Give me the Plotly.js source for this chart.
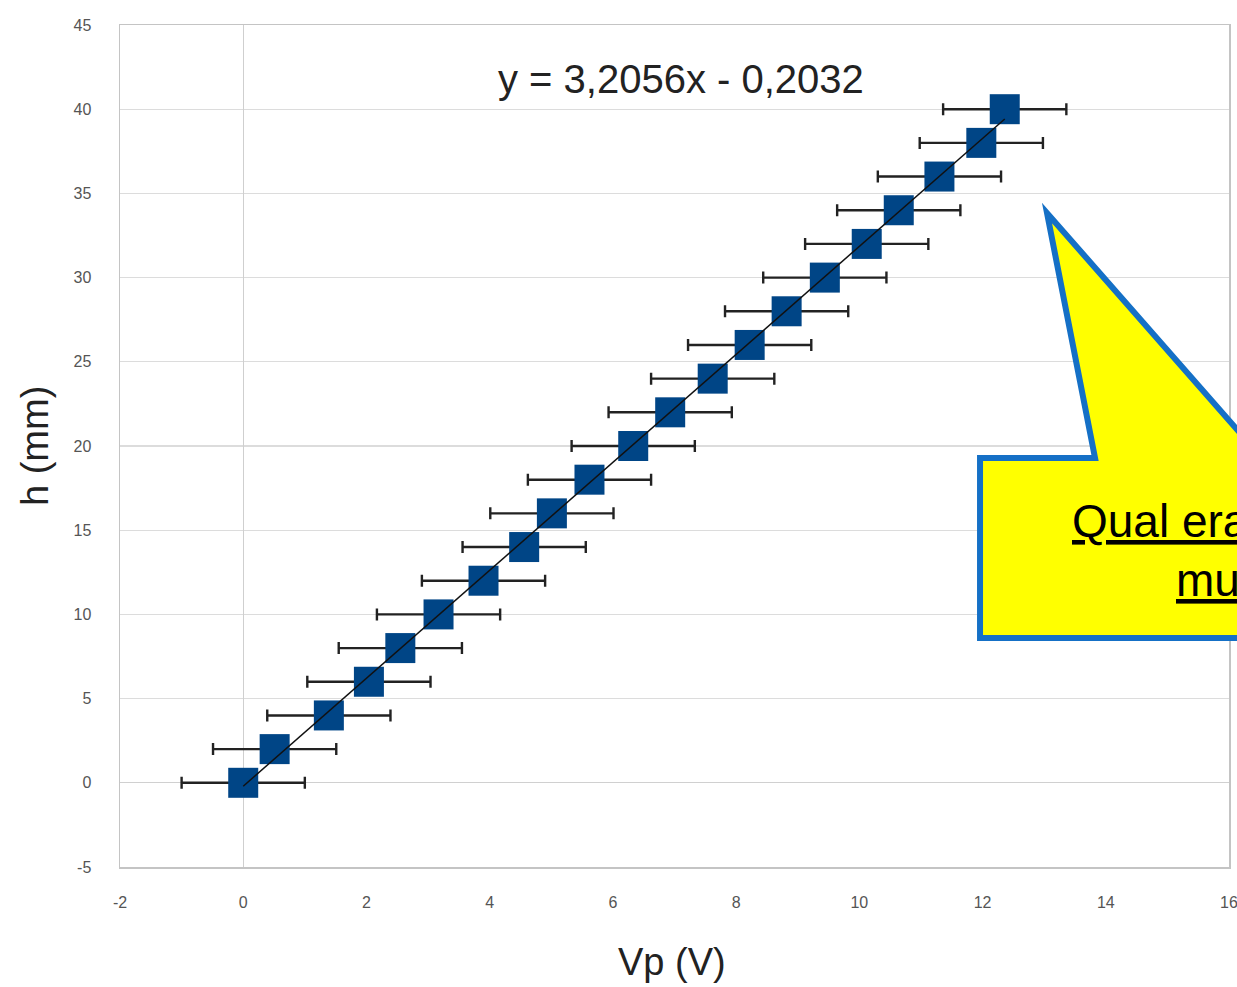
<!DOCTYPE html>
<html>
<head>
<meta charset="utf-8">
<script src="https://cdn.plot.ly/plotly-3.0.1.min.js"></script>
<style>
  html, body { margin: 0; padding: 0; background: #ffffff; overflow: hidden; }
  #chart { width: 1237px; height: 987px; }
</style>
</head>
<body>
<div id="chart"></div>
<script>
// Measured probe voltage (V) for each height step h (mm)
const vp = [0.00, 0.51, 1.39, 2.04, 2.55, 3.17, 3.90, 4.56, 5.01, 5.62, 6.33,
            6.93, 7.62, 8.22, 8.82, 9.44, 10.12, 10.64, 11.30, 11.98, 12.36];
const h = [0, 2, 4, 6, 8, 10, 12, 14, 16, 18, 20,
           22, 24, 26, 28, 30, 32, 34, 36, 38, 40];
// Voltage uncertainty (V)
const vpErr = [1, 1, 1, 1, 1, 1, 1, 1, 1, 1, 1,
               1, 1, 1, 1, 1, 1, 1, 1, 1, 1];

// Linear fit reported on the chart
const fitSlope = 3.2056;
const fitIntercept = -0.2032;
const fitLabel = 'y = 3,2056x - 0,2032';

const xTicks = [-2, 0, 2, 4, 6, 8, 10, 12, 14, 16];
const yTicks = [-5, 0, 5, 10, 15, 20, 25, 30, 35, 40, 45];

const fitX = [Math.min(...vp), Math.max(...vp)];
const fitY = fitX.map(v => fitSlope * v + fitIntercept);

const FONT = 'Liberation Sans, Arial, sans-serif';

// plot area in pixels, used to place overlay items in paper coordinates
const W = 1237, H = 987;
const M = { l: 120, r: 8, t: 25, b: 120 };
const pw = W - M.l - M.r, ph = H - M.t - M.b;
const px = x => (x - M.l) / pw;
const py = y => (H - M.b - y) / ph;

const points = {
  type: 'scatter',
  mode: 'markers',
  x: vp,
  y: h,
  marker: { symbol: 'square', size: 30, color: '#004586', line: { width: 0 } },
  error_x: {
    type: 'data',
    array: vpErr,
    visible: true,
    color: '#222222',
    thickness: 2.4,
    width: 6
  },
  hoverinfo: 'x+y',
  showlegend: false
};

const trend = {
  type: 'scatter',
  mode: 'lines',
  x: fitX,
  y: fitY,
  line: { color: '#111111', width: 1.5 },
  hoverinfo: 'skip',
  showlegend: false
};

// speech-bubble callout
const bubble = [
  [1047, 213], [1095, 458], [980, 458], [980, 638],
  [1400, 638], [1400, 458], [1262, 458]
];
const bubblePath = bubble.map((p, i) =>
  (i ? 'L ' : 'M ') + px(p[0]).toFixed(4) + ' ' + py(p[1]).toFixed(4)).join(' ') + ' Z';

const layout = {
  width: W,
  height: H,
  margin: M,
  paper_bgcolor: '#ffffff',
  plot_bgcolor: '#ffffff',
  showlegend: false,
  xaxis: {
    range: [-2, 16],
    tickvals: xTicks,
    ticktext: xTicks.map(String),
    showgrid: false,
    zeroline: true,
    zerolinecolor: '#cfcfcf',
    zerolinewidth: 1.2,
    showline: true,
    mirror: true,
    linecolor: '#c4c4c4',
    linewidth: 1.5,
    ticks: '',
    ticklabelstandoff: 20,
    ticklabeloverflow: 'allow',
    tickfont: { family: FONT, size: 16, color: '#555555' },
    fixedrange: true
  },
  yaxis: {
    range: [-5, 45],
    tickvals: yTicks,
    ticktext: yTicks.map(String),
    showgrid: true,
    gridcolor: '#dcdcdc',
    gridwidth: 1.2,
    zeroline: true,
    zerolinecolor: '#d0d0d0',
    zerolinewidth: 1.2,
    showline: true,
    mirror: true,
    linecolor: '#c4c4c4',
    linewidth: 1.5,
    ticks: '',
    ticklabelstandoff: 24,
    ticklabeloverflow: 'allow',
    tickfont: { family: FONT, size: 16, color: '#555555' },
    fixedrange: true
  },
  shapes: [
    {
      type: 'path',
      xref: 'paper',
      yref: 'paper',
      path: bubblePath,
      fillcolor: '#ffff00',
      line: { color: '#1570c6', width: 6 },
      layer: 'above'
    }
  ],
  annotations: [
    {
      xref: 'paper', yref: 'paper',
      x: px(681), y: py(79),
      xanchor: 'center', yanchor: 'middle',
      text: fitLabel,
      showarrow: false,
      font: { family: FONT, size: 40, color: '#222222' }
    },
    {
      xref: 'paper', yref: 'paper',
      x: px(672), y: py(962),
      xanchor: 'center', yanchor: 'middle',
      text: 'Vp (V)',
      showarrow: false,
      font: { family: FONT, size: 38, color: '#222222' }
    },
    {
      xref: 'paper', yref: 'paper',
      x: px(35), y: py(446),
      xanchor: 'center', yanchor: 'middle',
      textangle: -90,
      text: 'h (mm)',
      showarrow: false,
      font: { family: FONT, size: 38, color: '#222222' }
    },
    {
      xref: 'paper', yref: 'paper',
      x: px(1070), y: py(521),
      xanchor: 'left', yanchor: 'middle',
      text: '<u>Qual era</u>',
      showarrow: false,
      font: { family: FONT, size: 46, color: '#000000' }
    },
    {
      xref: 'paper', yref: 'paper',
      x: px(1174), y: py(580),
      xanchor: 'left', yanchor: 'middle',
      text: '<u>mu</u>',
      showarrow: false,
      font: { family: FONT, size: 46, color: '#000000' }
    }
  ]
};

Plotly.newPlot('chart', [points, trend], layout, { displayModeBar: false, staticPlot: true });
</script>
</body>
</html>
